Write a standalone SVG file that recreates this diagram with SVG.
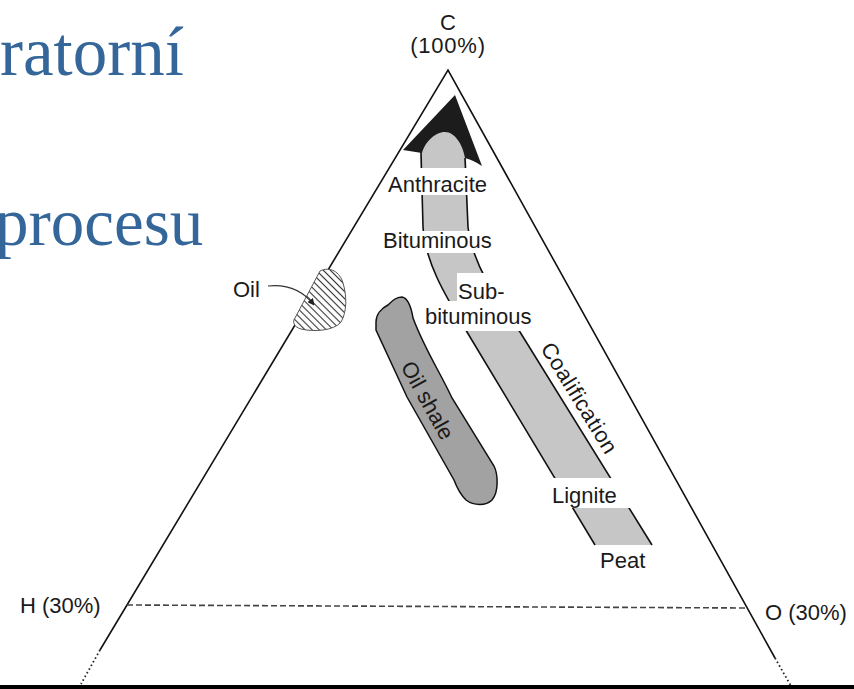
<svg xmlns="http://www.w3.org/2000/svg" width="854" height="689" viewBox="0 0 854 689">
<style>
.lbl{font-family:"Liberation Sans",Arial,sans-serif;font-size:22px;fill:#1a1a1a}
.blue{font-family:"Liberation Serif","Times New Roman",serif;fill:#346699}
.edge{fill:none;stroke:#111;stroke-width:1.6}
.tri{fill:none;stroke:#111;stroke-width:1.6}
.dot{fill:none;stroke:#222;stroke-width:1.8;stroke-dasharray:1.6 2.6}
</style>
<defs>
<pattern id="hatch" patternUnits="userSpaceOnUse" width="5" height="5" patternTransform="rotate(-45)">
<rect width="5" height="5" fill="#fff"/>
<line x1="2.5" y1="0" x2="2.5" y2="5" stroke="#333" stroke-width="1.1"/>
</pattern>
<marker id="ah" viewBox="0 0 10 10" refX="9" refY="5" markerWidth="7" markerHeight="7" orient="auto" markerUnits="userSpaceOnUse">
<path d="M0,0 L10,5 L0,10 Z" fill="#222"/>
</marker>
<mask id="lblmask" maskUnits="userSpaceOnUse" x="0" y="0" width="854" height="689">
<rect x="0" y="0" width="854" height="689" fill="#fff"/>
<rect x="380" y="168" width="125" height="27" fill="#000"/>
<rect x="378" y="231" width="125" height="22" fill="#000"/>
<rect x="457" y="273" width="50" height="30" fill="#000"/>
<rect x="420" y="301" width="122" height="30" fill="#000"/>
<rect x="540" y="478" width="90" height="30" fill="#000"/>
</mask>
</defs>
<rect width="854" height="689" fill="#fff"/>

<g id="title-text">
<text class="blue" x="0" y="75" font-size="69">ratorní</text>
<text class="blue" x="-5" y="245" font-size="67">procesu</text>
</g>

<g id="triangle">
<path class="tri" d="M100,650 L448,70 L775,658"/>
<path class="dot" d="M100,650 L81,684"/>
<path class="dot" d="M775,658 L791,686"/>
<line x1="127" y1="605" x2="748" y2="608" stroke="#444" stroke-width="1.6" stroke-dasharray="6 3"/>
</g>

<g id="coalification-band" mask="url(#lblmask)">
<path d="M420,152 Q422,128 446,128 Q466,130 466,152 L468,227 C472,262 495,298 520,332 L652,545 L595,545 L467,332 C445,295 425,262 423,227 Z" fill="#c6c6c6"/>
<path class="edge" d="M421,152 L423,227 C425,262 445,295 467,332 L595,545"/>
<path class="edge" d="M465,158 L468,227 C472,262 495,298 520,332 L652,545"/>
</g>
<g id="arrowhead">
<path d="M455,95 L482,166 Q473,160 465,158 C463,145 455,132 445,132 C435,132 425,142 422,153 L403,150 Z" fill="#1c1c1c"/>
</g>

<g id="oil-shale">
<path d="M376,322 C376,314 382,308 388,305 C392,301 396,297 402,297 C408,298 411,306 413,318 C425,350 440,372 452,398 L494,466 C498,474 499,492 492,500 C486,506 474,506 466,500 C460,494 457,488 454,480 L407,397 L376,330 Z" fill="#a2a2a2" stroke="#111" stroke-width="1.5"/>
<text class="lbl" font-size="23" text-anchor="middle" transform="translate(421,404) rotate(61)">Oil shale</text>
</g>

<g id="oil">
<path d="M320,271 C330,266 340,272 343,283 C347,296 347,312 341,322 C334,331 313,332 301,329 C294,327 292,322 295,318 Z" fill="url(#hatch)" stroke="#555" stroke-width="1"/>
<text class="lbl" x="233" y="297" font-size="21">Oil</text>
</g>

<g id="connectors">
<path d="M268,286 Q297,283 314,305" fill="none" stroke="#333" stroke-width="1.2" marker-end="url(#ah)"/>
</g>

<g id="labels">
<text class="lbl" x="448" y="30" font-size="21" text-anchor="middle">C</text>
<text class="lbl" x="448" y="53" font-size="21" text-anchor="middle" letter-spacing="0.8">(100%)</text>
<text class="lbl" x="388" y="192">Anthracite</text>
<text class="lbl" x="383" y="248">Bituminous</text>
<text class="lbl" x="458" y="299">Sub-</text>
<text class="lbl" x="425" y="324">bituminous</text>
<text class="lbl" text-anchor="middle" transform="translate(573,402) rotate(58.5)" letter-spacing="0.5">Coalification</text>
<text class="lbl" x="552" y="503">Lignite</text>
<text class="lbl" x="600" y="568">Peat</text>
<text class="lbl" x="20" y="613" font-size="22.5">H (30%)</text>
<text class="lbl" x="765" y="620" font-size="23">O (30%)</text>
</g>

<rect x="0" y="685" width="854" height="4" fill="#000"/>
</svg>
